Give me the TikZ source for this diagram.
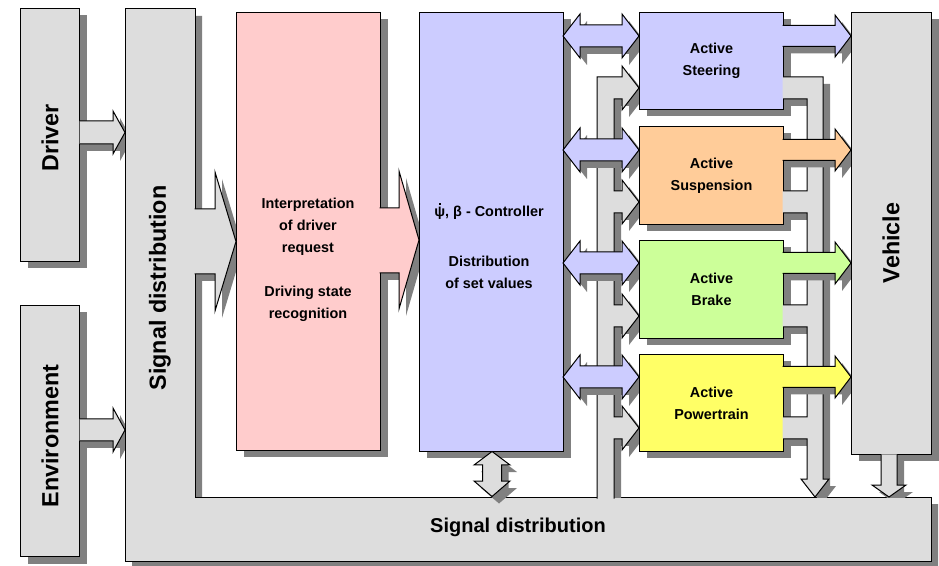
\documentclass[tikz,border=0pt]{standalone}
\usepackage{fontspec}
\setmainfont{Liberation Sans}
\definecolor{gry}{HTML}{DDDDDD}
\definecolor{shd}{HTML}{808080}
\definecolor{cpink}{HTML}{FFCCCC}
\definecolor{cblue}{HTML}{CCCCFF}
\definecolor{corange}{HTML}{FFCC99}
\definecolor{cgreen}{HTML}{CCFF99}
\definecolor{cyellow}{HTML}{FFFF66}
\newcommand\modfont{\fontsize{10.8pt}{16.5pt}\selectfont\bfseries}
\newcommand\bigfont{\fontsize{17.5pt}{20pt}\selectfont\bfseries}
\newcommand\barfont{\fontsize{15pt}{18pt}\selectfont\bfseries}
\newcommand\psidot{\ooalign{ψ\cr\hidewidth\raisebox{0.82em}{\rule{0.14em}{0.14em}}\hidewidth\cr}}
\def\PX{0.75pt}
\tikzset{
  shad/.style={preaction={fill=shd, draw=none, transform canvas={xshift=5.25pt,yshift=-5.25pt}}},
  box/.style={draw=black, line width=0.75pt, shad, anchor=north west, inner sep=0pt, align=center, font=\modfont},
  arr/.style={draw=black, line width=0.75pt, line join=miter, shad},
  lbl/.style={inner sep=0pt, align=center, font=\modfont},
  biglbl/.style={inner sep=0pt, font=\bigfont, rotate=90},
}
\begin{document}
\begin{tikzpicture}[x=0.75pt,y=-0.75pt]
\useasboundingbox (0,0) rectangle (939,566);

% Driver and Environment
\node[box, fill=gry, minimum width=59*\PX, minimum height=253*\PX] (drv) at (20,8) {};
\node[box, fill=gry, minimum width=59*\PX, minimum height=251*\PX] (env) at (20,305) {};
\node[biglbl] (drvt) at (50,138) {Driver};
\node[biglbl] (envt) at (50,436) {Environment};

% arrows into signal distribution
\filldraw[arr, fill=gry] (79.5,121) -- (113,121) -- (113,111) -- (125,132.5) -- (113,154) -- (113,144) -- (79.5,144);
\filldraw[arr, fill=gry] (79.5,419) -- (113,419) -- (113,408) -- (125,430) -- (113,452) -- (113,441) -- (79.5,441);

% Signal distribution (L-shape)
\filldraw[arr, fill=gry] (125,9) -- (195,9) -- (195,497) -- (931,497) -- (931,561) -- (125,561) -- cycle;
\node[biglbl] (sdv) at (160,288) {Signal distribution};
\node[inner sep=0pt, font=\barfont] (sdh) at (518,527) {Signal distribution};

% SD -> interpretation
\filldraw[arr, fill=gry] (194.5,209) -- (215,209) -- (215,172) -- (236,241.5) -- (215,311) -- (215,274) -- (194.5,274);

% Interpretation box
\node[box, fill=cpink, minimum width=144*\PX, minimum height=438*\PX] (interp) at (236,12) {};
\node[lbl] (interpt) at (308,260) {Interpretation\\of driver\\request\\[16.5pt]Driving state\\recognition};

% interpretation -> controller
\filldraw[arr, fill=cpink] (379.5,208) -- (399,208) -- (399,171) -- (419,240) -- (399,309) -- (399,273) -- (379.5,273);

% Controller box
\node[box, fill=cblue, minimum width=144*\PX, minimum height=439*\PX] (ctrl) at (419,12) {};
\node[lbl] (ctrlt1) at (489,213) {\psidot, β - Controller};
\node[lbl] (ctrlt2) at (489,272) {Distribution\\of set values};

% controller <-> signal distribution
\filldraw[arr, fill=gry] (492,451.5) -- (510,465) -- (501.5,465) -- (501.5,481) -- (510,481) -- (492,496.5) -- (474,481) -- (482.5,481) -- (482.5,465) -- (474,465) -- cycle;

% feeder from signal distribution to actuators
\begin{scope}
\clip (0,0) rectangle (939,497);
\fill[shd, shift={(7,7)}] (597,498.5) -- (597,77) -- (622,77) -- (622,66) -- (639,88) -- (622,110) -- (622,99) -- (614,99) -- (614,191) -- (622,191) -- (622,180) -- (639,202) -- (622,224) -- (622,213) -- (614,213) -- (614,305) -- (622,305) -- (622,294) -- (639,316) -- (622,338) -- (622,327) -- (614,327) -- (614,417) -- (622,417) -- (622,406) -- (639,428) -- (622,450) -- (622,439) -- (614,439) -- (614,498.5);
\end{scope}
\filldraw[draw=black, line width=0.75pt, fill=gry] (597,498.5) -- (597,77) -- (622,77) -- (622,66) -- (639,88) -- (622,110) -- (622,99) -- (614,99) -- (614,191) -- (622,191) -- (622,180) -- (639,202) -- (622,224) -- (622,213) -- (614,213) -- (614,305) -- (622,305) -- (622,294) -- (639,316) -- (622,338) -- (622,327) -- (614,327) -- (614,417) -- (622,417) -- (622,406) -- (639,428) -- (622,450) -- (622,439) -- (614,439) -- (614,498.5);

% controller <-> actuators
\foreach \c in {36,150,263,377}{
  \filldraw[arr, fill=cblue] (563,\c) -- (580,\c-22) -- (580,\c-11) -- (622,\c-11) -- (622,\c-22) -- (639,\c) -- (622,\c+22) -- (622,\c+11) -- (580,\c+11) -- (580,\c+22) -- cycle;
}

% actuator boxes
\node[box, fill=cblue, minimum width=144*\PX, minimum height=97*\PX] (steer) at (639,12) {Active\\Steering};
\node[box, fill=corange, minimum width=144*\PX, minimum height=98*\PX] (susp) at (639,126) {Active\\Suspension};
\node[box, fill=cgreen, minimum width=144*\PX, minimum height=98*\PX] (brake) at (639,240) {Active\\Brake};
\node[box, fill=cyellow, minimum width=144*\PX, minimum height=97*\PX] (ptrain) at (639,354) {Active\\Powertrain};

% collector from actuators to signal distribution
\begin{scope}
\clip (0,0) rectangle (939,497);
\fill[shd, shift={(7,7)}] (783,77) -- (823,77) -- (823,479) -- (829,479) -- (815,497) -- (801,479) -- (807,479) -- (807,439) -- (783,439) -- (783,417) -- (807,417) -- (807,327) -- (783,327) -- (783,305) -- (807,305) -- (807,213) -- (783,213) -- (783,191) -- (807,191) -- (807,99) -- (783,99) -- cycle;
\end{scope}
\fill[gry] (782.5,77) -- (823,77) -- (823,479) -- (829,479) -- (815,497) -- (801,479) -- (807,479) -- (807,439) -- (782.5,439) -- (782.5,417) -- (807,417) -- (807,327) -- (782.5,327) -- (782.5,305) -- (807,305) -- (807,213) -- (782.5,213) -- (782.5,191) -- (807,191) -- (807,99) -- (782.5,99) -- cycle;
\draw[line width=0.75pt, line join=miter] (783,77) -- (823,77) -- (823,479) -- (829,479) -- (815,497) -- (801,479) -- (807,479) -- (807,439) -- (783,439)
  (783,417) -- (807,417) -- (807,327) -- (783,327)
  (783,305) -- (807,305) -- (807,213) -- (783,213)
  (783,191) -- (807,191) -- (807,99) -- (783,99);

% actuators -> vehicle
\foreach \c/\col in {36/cblue,150/corange,263/cgreen,377/cyellow}{
  \filldraw[arr, fill=\col] (782.5,\c-10.5) -- (835,\c-10.5) -- (835,\c-21) -- (851,\c) -- (835,\c+21) -- (835,\c+10.5) -- (782.5,\c+10.5);
}

% Vehicle
\node[box, fill=gry, minimum width=80*\PX, minimum height=442*\PX] (veh) at (851,12) {};
\node[biglbl] (veht) at (891,243) {Vehicle};

% vehicle -> signal distribution
\begin{scope}
\clip (0,0) rectangle (939,497);
\fill[shd, shift={(7,7)}] (881,454) -- (881,485) -- (872,485) -- (889,497) -- (906,485) -- (897,485) -- (897,454) -- cycle;
\end{scope}
\filldraw[draw=black, line width=0.75pt, line join=miter, fill=gry] (881,454.5) -- (881,485) -- (872,485) -- (889,497) -- (906,485) -- (897,485) -- (897,454.5);
\end{tikzpicture}
\end{document}
